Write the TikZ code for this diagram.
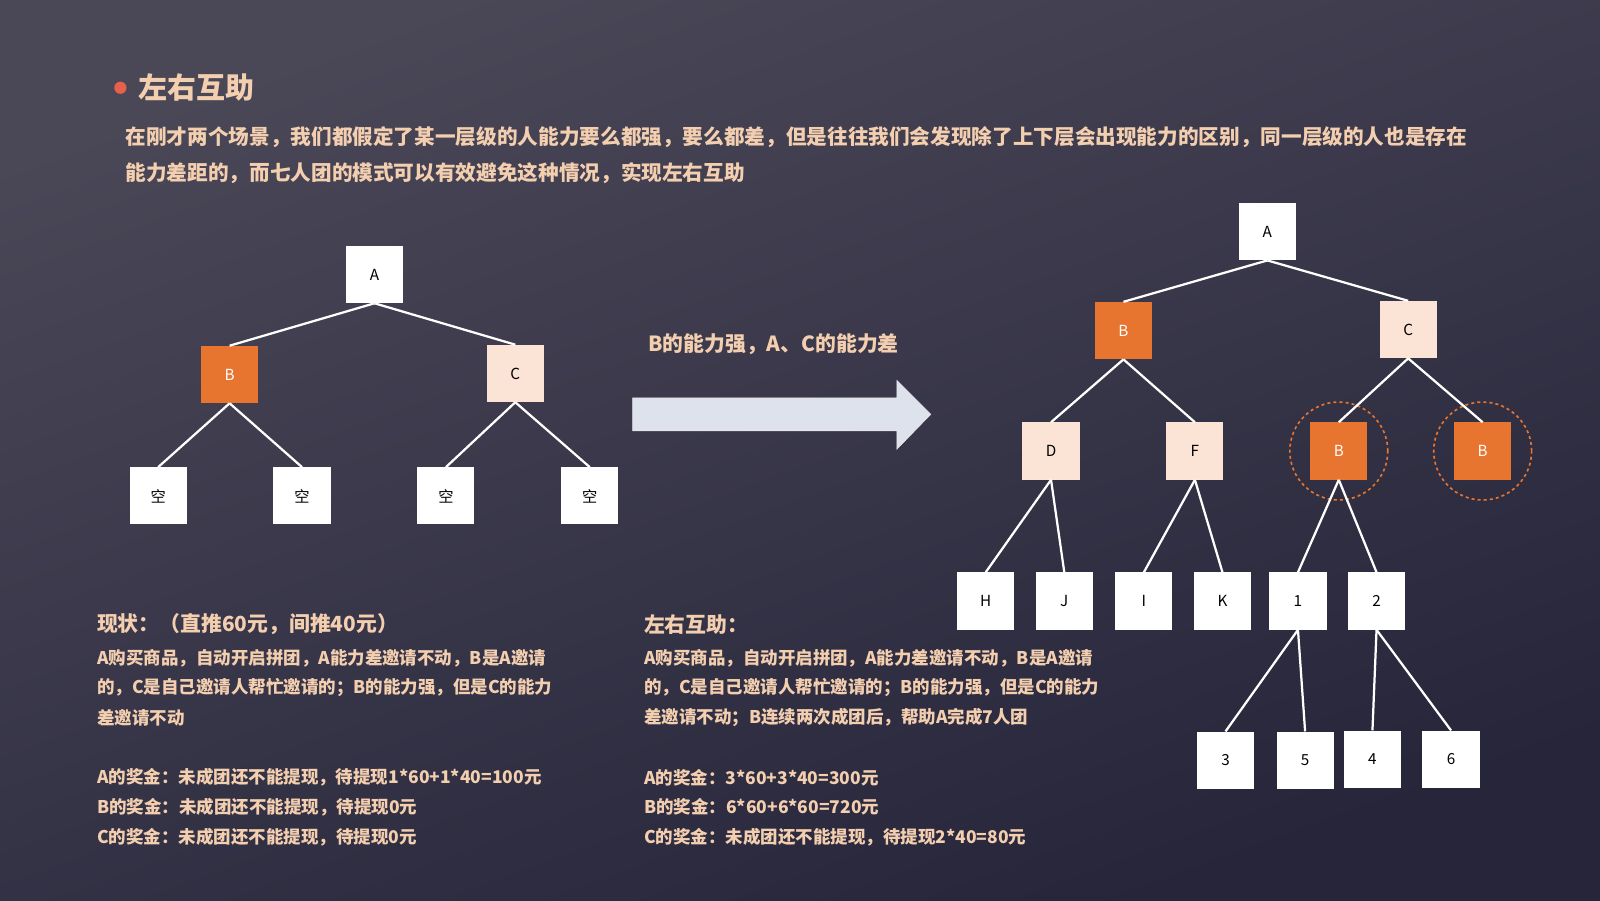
\documentclass[tikz,border=0pt]{standalone}
\usepackage{fontspec}
\setmainfont{Noto Sans CJK SC}
\newfontfamily\boldcjk{Noto Sans CJK SC}
\usetikzlibrary{positioning}
\usetikzlibrary{arrows}
\definecolor{bgtop}{HTML}{4A4757}
\definecolor{bgbot}{HTML}{26253A}
\definecolor{peach}{HTML}{F3CFB0}
\definecolor{ora}{HTML}{E8752F}
\definecolor{dot}{HTML}{E8604A}
\definecolor{lite}{HTML}{FBE3D5}
\definecolor{arrowfill}{HTML}{DDE2EC}

\begin{document}
\begin{tikzpicture}[x=1bp, y=-1bp,
  box/.style={draw=none, fill=white, minimum width=56bp, minimum height=56bp, inner sep=0pt, font=\fontsize{15}{15}\selectfont},
  strong/.style={box, fill=ora, text=white},
  weak/.style={box, fill=lite},
  ring/.style={draw=ora, dashed, line width=1.6bp, circle, minimum size=96bp},
  link/.style={white, line width=2.2bp},
  txt/.style={anchor=west, text=peach, inner sep=0pt, font=\boldcjk\bfseries\fontsize{17.2}{17.2}\selectfont},
  head/.style={txt, font=\boldcjk\bfseries\fontsize{20.5}{20.5}\selectfont}]
%% background
\shade[top color=bgtop, bottom color=bgbot, shading angle=20] (0,0) rectangle (1568,882);
\useasboundingbox (0,0) rectangle (1568,882);

%% title
\fill[dot] (118,86) circle (6);
\node[txt, font=\boldcjk\bfseries\fontsize{28.5}{28.5}\selectfont] (title) at (136,86) {左右互助};
\node[txt, font=\boldcjk\bfseries\fontsize{20.3}{20.3}\selectfont] (p1) at (123,134) {在刚才两个场景，我们都假定了某一层级的人能力要么都强，要么都差，但是往往我们会发现除了上下层会出现能力的区别，同一层级的人也是存在};
\node[txt, font=\boldcjk\bfseries\fontsize{20.3}{20.3}\selectfont] (p2) at (123,170) {能力差距的，而七人团的模式可以有效避免这种情况，实现左右互助};

%% left tree
\node[box] (a) at (367,269) {A};
\node[strong] (b) at (225,367) {B};
\node[weak] (c) at (505,366) {C};
\node[box] (e1) at (155,486) {空};
\node[box] (e2) at (296,486) {空};
\node[box] (e3) at (437,486) {空};
\node[box] (e4) at (578,486) {空};
\draw[link] (a.south) -- (b.north);
\draw[link] (a.south) -- (c.north);
\draw[link] (b.south) -- (e1.north);
\draw[link] (b.south) -- (e2.north);
\draw[link] (c.south) -- (e3.north);
\draw[link] (c.south) -- (e4.north);

%% arrow
\node[head] (say) at (635,337) {B的能力强，A、C的能力差};
\draw[fill=arrowfill, draw=white!80!gray, line width=0.8bp] (620,390) -- (879,390) -- (879,373) -- (912,406) -- (879,440) -- (879,422) -- (620,422) -- cycle;

%% right tree
\node[box] (ra) at (1242,227) {A};
\node[strong] (rb) at (1101,324) {B};
\node[weak] (rc) at (1380,323) {C};
\node[weak] (rd) at (1030,442) {D};
\node[weak] (rf) at (1171,442) {F};
\node[strong] (rb1) at (1312,442) {B};
\node[strong] (rb2) at (1453,442) {B};
\node[ring] at (rb1) {};
\node[ring] at (rb2) {};
\node[box] (h) at (966,589) {H};
\node[box] (j) at (1043,589) {J};
\node[box] (i) at (1121,589) {I};
\node[box] (k) at (1198,589) {K};
\node[box] (n1) at (1272,589) {1};
\node[box] (n2) at (1349,589) {2};
\node[box] (n3) at (1201,745) {3};
\node[box] (n5) at (1279,745) {5};
\node[box] (n4) at (1345,744) {4};
\node[box] (n6) at (1422,744) {6};
\foreach \p/\q in {ra/rb, ra/rc, rb/rd, rb/rf, rc/rb1, rc/rb2, rd/h, rd/j, rf/i, rf/k, rb1/n1, rb1/n2, n1/n3, n1/n5, n2/n4, n2/n6}
  \draw[link] (\p.south) -- (\q.north);

%% left text
\node[head] (lh) at (95,612) {现状：（直推60元，间推40元）};
\node[txt] at (95,645) {A购买商品，自动开启拼团，A能力差邀请不动，B是A邀请};
\node[txt] at (95,674) {的，C是自己邀请人帮忙邀请的；B的能力强，但是C的能力};
\node[txt] at (95,703) {差邀请不动};
\node[txt] at (95,762) {A的奖金：未成团还不能提现，待提现1*60+1*40=100元};
\node[txt] at (95,791) {B的奖金：未成团还不能提现，待提现0元};
\node[txt] at (95,820) {C的奖金：未成团还不能提现，待提现0元};

%% right text
\node[head] (rh) at (631,612) {左右互助：};
\node[txt] at (631,645) {A购买商品，自动开启拼团，A能力差邀请不动，B是A邀请};
\node[txt] at (631,674) {的，C是自己邀请人帮忙邀请的；B的能力强，但是C的能力};
\node[txt] at (631,703) {差邀请不动；B连续两次成团后，帮助A完成7人团};
\node[txt] at (631,762) {A的奖金：3*60+3*40=300元};
\node[txt] at (631,791) {B的奖金：6*60+6*60=720元};
\node[txt] at (631,820) {C的奖金：未成团还不能提现，待提现2*40=80元};
\end{tikzpicture}
\end{document}
